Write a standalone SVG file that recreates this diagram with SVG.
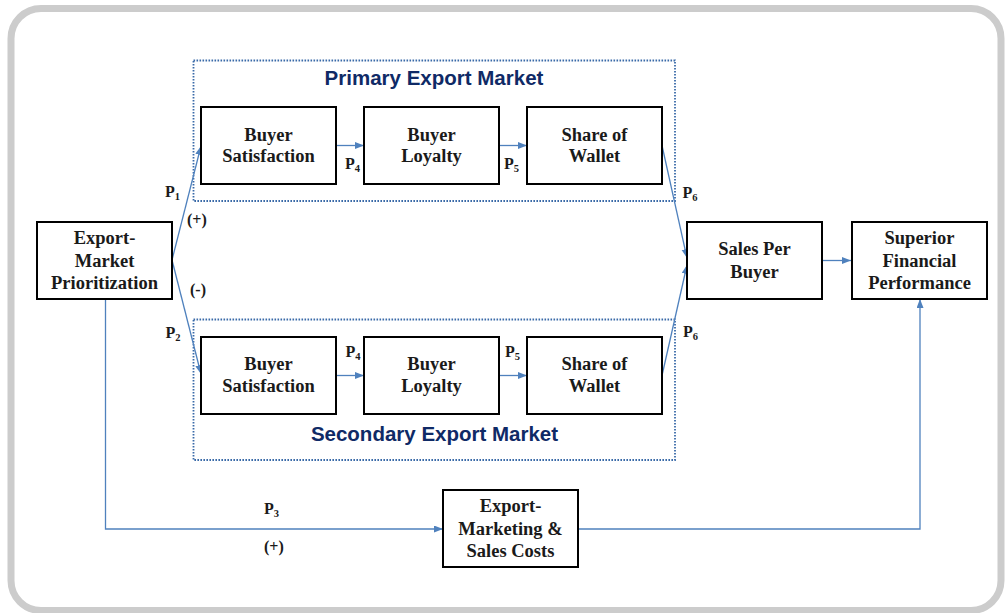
<svg xmlns="http://www.w3.org/2000/svg" width="1005" height="613" viewBox="0 0 1005 613">
  <style>
    .frame { fill: #ffffff; stroke: #cccccc; stroke-width: 7; }
    .market { fill: none; stroke: #3a6aa8; stroke-width: 1.8; stroke-dasharray: 1.6 1.4; }
    .box { fill: #ffffff; stroke: #000000; stroke-width: 2; }
    .lbl { font-family: "Liberation Serif", "Times New Roman", serif; font-weight: bold; font-size: 18.5px; fill: #1a1a1a; text-anchor: middle; }
    .title { font-family: "Liberation Sans", Arial, sans-serif; font-weight: bold; font-size: 20.5px; fill: #0f2a66; text-anchor: middle; }
    .p { font-family: "Liberation Serif", "Times New Roman", serif; font-weight: bold; font-size: 16px; fill: #1a1a1a; }
    .sub { font-size: 10.5px; }
    .link { fill: none; stroke: #4f81bd; stroke-width: 1.3; }
  </style>
  <defs>
    <marker id="arrow" markerUnits="userSpaceOnUse" markerWidth="10" markerHeight="8" refX="9" refY="3.5" orient="auto">
      <path d="M0,0 L9,3.5 L0,7 z" fill="#4f81bd"/>
    </marker>
  </defs>

  <!-- outer rounded frame -->
  <rect class="frame" x="11" y="8.5" width="990" height="602" rx="30" ry="30"/>

  <!-- market groupings -->
  <g id="primary-market">
    <rect class="market" x="193.5" y="60.5" width="481.5" height="140.5"/>
    <text class="title" x="434" y="84.5">Primary Export Market</text>
  </g>
  <g id="secondary-market">
    <rect class="market" x="193.5" y="319.5" width="481.5" height="140.5"/>
    <text class="title" x="434.5" y="441">Secondary Export Market</text>
  </g>

  <!-- connectors -->
  <g id="connectors">
    <path class="link" d="M172,260 L201,146" marker-end="url(#arrow)"/>
    <path class="link" d="M172,260 L201,374" marker-end="url(#arrow)"/>
    <path class="link" d="M336,145.5 L364,145.5" marker-end="url(#arrow)"/>
    <path class="link" d="M499,145.5 L527,145.5" marker-end="url(#arrow)"/>
    <path class="link" d="M336,375.5 L364,375.5" marker-end="url(#arrow)"/>
    <path class="link" d="M499,375.5 L527,375.5" marker-end="url(#arrow)"/>
    <path class="link" d="M662,145.5 L687,258" marker-end="url(#arrow)"/>
    <path class="link" d="M662,375.5 L687,265" marker-end="url(#arrow)"/>
    <path class="link" d="M822,260.5 L851,260.5" marker-end="url(#arrow)"/>
    <path class="link" d="M105.5,299 L105.5,529 L443,529" marker-end="url(#arrow)"/>
    <path class="link" d="M578,529 L920,529 L920,299" marker-end="url(#arrow)"/>
  </g>

  <!-- path labels -->
  <g id="path-labels">
    <text class="p" x="165" y="197">P<tspan class="sub" dy="3">1</tspan></text>
    <text class="p" x="187" y="225">(+)</text>
    <text class="p" x="190" y="295">(-)</text>
    <text class="p" x="165.5" y="338">P<tspan class="sub" dy="3">2</tspan></text>
    <text class="p" x="345" y="169">P<tspan class="sub" dy="3">4</tspan></text>
    <text class="p" x="504" y="169">P<tspan class="sub" dy="3">5</tspan></text>
    <text class="p" x="682.5" y="197.5">P<tspan class="sub" dy="3">6</tspan></text>
    <text class="p" x="345.5" y="357">P<tspan class="sub" dy="3">4</tspan></text>
    <text class="p" x="505" y="357">P<tspan class="sub" dy="3">5</tspan></text>
    <text class="p" x="683" y="337">P<tspan class="sub" dy="3">6</tspan></text>
    <text class="p" x="264" y="514">P<tspan class="sub" dy="3">3</tspan></text>
    <text class="p" x="264" y="552">(+)</text>
  </g>

  <!-- nodes -->
  <g id="export-market-prioritization">
    <rect class="box" x="37" y="222" width="135" height="77"/>
    <text class="lbl" x="104.5" y="244">Export-</text>
    <text class="lbl" x="104.5" y="266.5">Market</text>
    <text class="lbl" x="104.5" y="289">Prioritization</text>
  </g>
  <g id="primary-buyer-satisfaction">
    <rect class="box" x="201" y="107" width="135" height="77"/>
    <text class="lbl" x="268.5" y="140.5">Buyer</text>
    <text class="lbl" x="268.5" y="162">Satisfaction</text>
  </g>
  <g id="primary-buyer-loyalty">
    <rect class="box" x="364" y="107" width="135" height="77"/>
    <text class="lbl" x="431.5" y="140.5">Buyer</text>
    <text class="lbl" x="431.5" y="162">Loyalty</text>
  </g>
  <g id="primary-share-of-wallet">
    <rect class="box" x="527" y="107" width="135" height="77"/>
    <text class="lbl" x="594.5" y="140.5">Share of</text>
    <text class="lbl" x="594.5" y="162">Wallet</text>
  </g>
  <g id="secondary-buyer-satisfaction">
    <rect class="box" x="201" y="337" width="135" height="77"/>
    <text class="lbl" x="268.5" y="370">Buyer</text>
    <text class="lbl" x="268.5" y="392">Satisfaction</text>
  </g>
  <g id="secondary-buyer-loyalty">
    <rect class="box" x="364" y="337" width="135" height="77"/>
    <text class="lbl" x="431.5" y="370">Buyer</text>
    <text class="lbl" x="431.5" y="392">Loyalty</text>
  </g>
  <g id="secondary-share-of-wallet">
    <rect class="box" x="527" y="337" width="135" height="77"/>
    <text class="lbl" x="594.5" y="370">Share of</text>
    <text class="lbl" x="594.5" y="392">Wallet</text>
  </g>
  <g id="sales-per-buyer">
    <rect class="box" x="687" y="222" width="135" height="77"/>
    <text class="lbl" x="754.5" y="255">Sales Per</text>
    <text class="lbl" x="754.5" y="277.5">Buyer</text>
  </g>
  <g id="superior-financial-performance">
    <rect class="box" x="852" y="222" width="135" height="77"/>
    <text class="lbl" x="919.5" y="244">Superior</text>
    <text class="lbl" x="919.5" y="266.5">Financial</text>
    <text class="lbl" x="919.5" y="289">Performance</text>
  </g>
  <g id="export-marketing-sales-costs">
    <rect class="box" x="443" y="490" width="135" height="77"/>
    <text class="lbl" x="510.5" y="512">Export-</text>
    <text class="lbl" x="510.5" y="534.5">Marketing &amp;</text>
    <text class="lbl" x="510.5" y="557">Sales Costs</text>
  </g>
</svg>
